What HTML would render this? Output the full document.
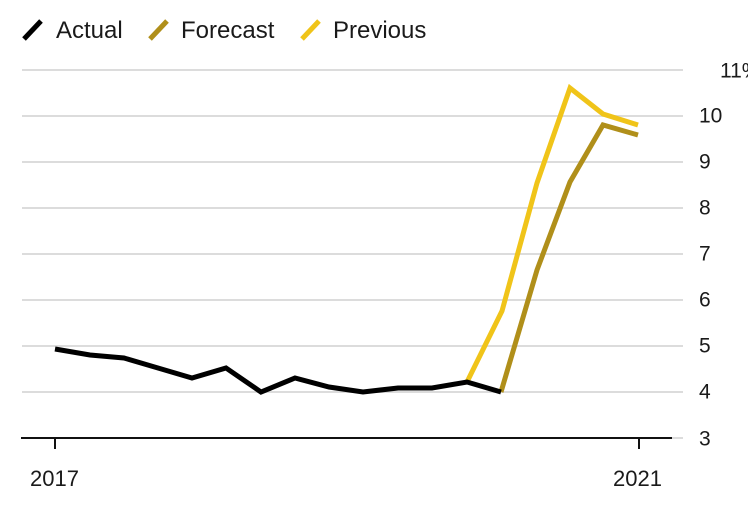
<!DOCTYPE html>
<html>
<head>
<meta charset="utf-8">
<style>
html,body{margin:0;padding:0;background:#fff;}
svg{display:block;}
text{font-family:"Liberation Sans",Arial,sans-serif;fill:#1a1a1a;}
</style>
</head>
<body>
<svg width="748" height="507" viewBox="0 0 748 507" xmlns="http://www.w3.org/2000/svg">
  <!-- legend -->
  <line x1="24" y1="39" x2="41" y2="21" stroke="#000" stroke-width="5"/>
  <text x="56" y="38" font-size="24">Actual</text>
  <line x1="150" y1="39" x2="167" y2="21" stroke="#b08f1a" stroke-width="5"/>
  <text x="181" y="38" font-size="24">Forecast</text>
  <line x1="302" y1="39" x2="319" y2="21" stroke="#f0c419" stroke-width="5"/>
  <text x="333" y="38" font-size="24">Previous</text>

  <!-- gridlines -->
  <g stroke="#dcdcdc" stroke-width="2">
    <line x1="22" y1="70" x2="683" y2="70"/>
    <line x1="22" y1="116" x2="683" y2="116"/>
    <line x1="22" y1="162" x2="683" y2="162"/>
    <line x1="22" y1="208" x2="683" y2="208"/>
    <line x1="22" y1="254" x2="683" y2="254"/>
    <line x1="22" y1="300" x2="683" y2="300"/>
    <line x1="22" y1="346" x2="683" y2="346"/>
    <line x1="22" y1="392" x2="683" y2="392"/>
    <line x1="672" y1="438" x2="683" y2="438"/>
  </g>

  <!-- axis -->
  <line x1="21" y1="438" x2="672" y2="438" stroke="#111" stroke-width="2"/>
  <line x1="55" y1="438" x2="55" y2="449" stroke="#111" stroke-width="2"/>
  <line x1="639" y1="438" x2="639" y2="449" stroke="#111" stroke-width="2"/>

  <!-- y labels -->
  <g font-size="21" dominant-baseline="central">
    <text x="720" y="71">11%</text>
    <text x="699" y="116">10</text>
    <text x="699" y="162">9</text>
    <text x="699" y="208">8</text>
    <text x="699" y="254">7</text>
    <text x="699" y="300">6</text>
    <text x="699" y="346">5</text>
    <text x="699" y="392">4</text>
    <text x="699" y="439">3</text>
  </g>

  <!-- x labels -->
  <text x="30" y="486" font-size="22">2017</text>
  <text x="613" y="486" font-size="22">2021</text>

  <!-- series -->
  <polyline fill="none" stroke="#f0c419" stroke-width="5" stroke-linejoin="miter"
    points="467,382 502,311 537,183 570,88 603,114 638,125"/>
  <polyline fill="none" stroke="#b08f1a" stroke-width="5" stroke-linejoin="miter"
    points="501,392 537,270 570,182 603,125 638,135"/>
  <polyline fill="none" stroke="#000" stroke-width="5" stroke-linejoin="miter"
    points="55,349 90,355 124,358 158,368 192,378 226,368 261,392 295,378 329,387 363,392 398,388 432,388 467,382 501,392"/>
</svg>
</body>
</html>
